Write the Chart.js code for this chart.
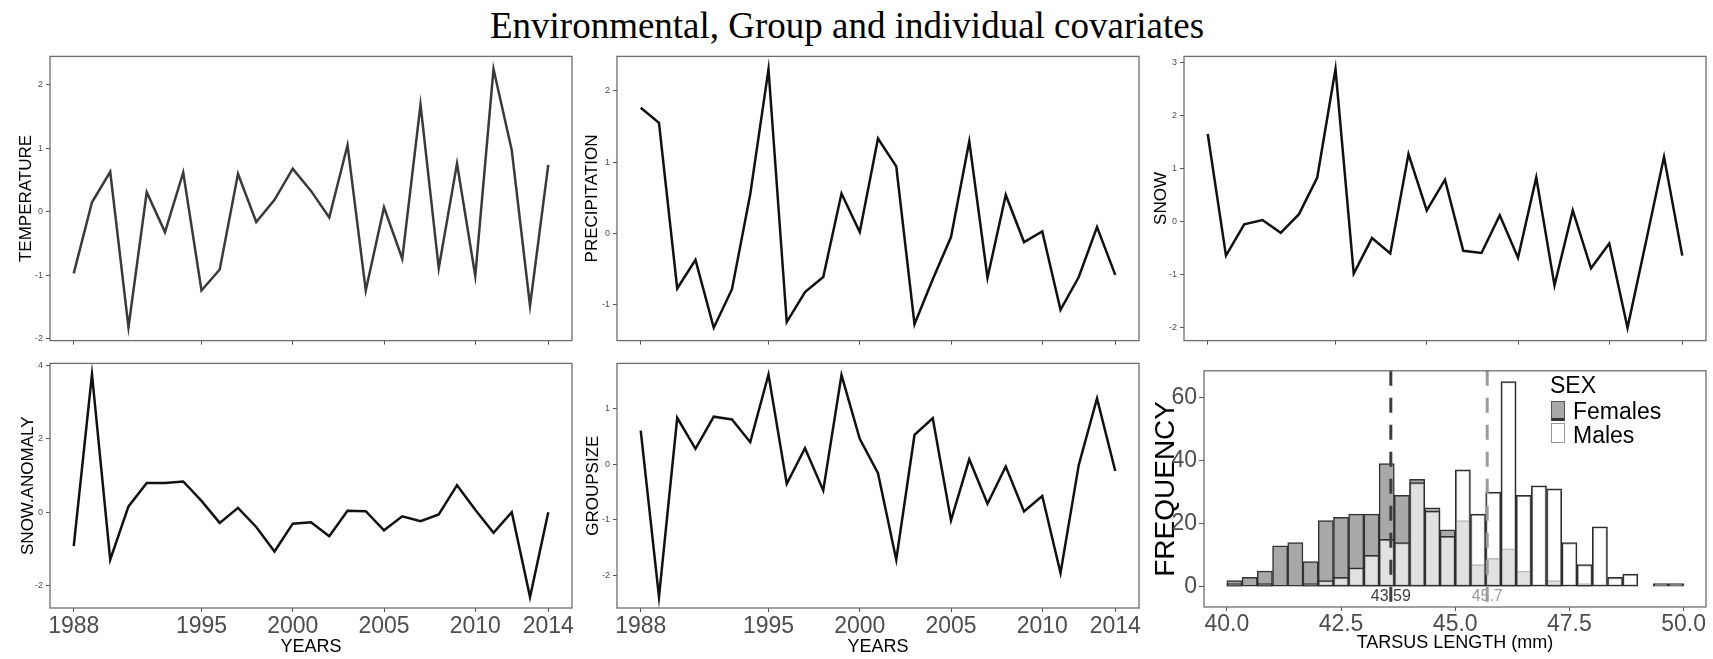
<!DOCTYPE html>
<html>
<head>
<meta charset="utf-8">
<script src="https://cdn.jsdelivr.net/npm/chart.js@4.4.1/dist/chart.umd.min.js"></script>
<style>
  body { margin: 0; background: #fff; width: 1713px; height: 659px; position: relative; overflow: hidden;
         font-family: 'Liberation Sans', Arial, sans-serif; }
  canvas { position: absolute; }
  #title { position: absolute; left: 0; width: 1694px; top: 7px; text-align: center; line-height: 1;
           font-family: 'Liberation Serif', 'Times New Roman', serif; font-size: 37px; color: #000; }
  .lg { position: absolute; line-height: 1; font-size: 23px; color: #000; }
  .key { position: absolute; width: 14px; height: 20px; box-sizing: border-box; }
</style>
</head>
<body>
<div id="title">Environmental, Group and individual covariates</div>

<canvas id="temp"></canvas>
<canvas id="prec"></canvas>
<canvas id="snow"></canvas>
<canvas id="anom"></canvas>
<canvas id="group"></canvas>
<canvas id="hist"></canvas>

<div class="lg" style="left:1550px;top:374px">SEX</div>
<div class="key" style="left:1551px;top:401px;background:#a8a8a8;border:1px solid #555;border-bottom:3px solid #333"></div>
<div class="key" style="left:1551px;top:423px;background:#fff;border:1px solid #999"></div>
<div class="lg" style="left:1573px;top:400px">Females</div>
<div class="lg" style="left:1573px;top:424px">Males</div>

<script>
// yearly covariates, 1988-2014
const years = [1988, 1989, 1990, 1991, 1992, 1993, 1994, 1995, 1996, 1997, 1998, 1999, 2000, 2001,
               2002, 2003, 2004, 2005, 2006, 2007, 2008, 2009, 2010, 2011, 2012, 2013, 2014];
const yearTicks = [1988, 1995, 2000, 2005, 2010, 2014];

const temperature = [-0.97, 0.15, 0.63, -1.82, 0.31, -0.32, 0.62, -1.24, -0.91, 0.60, -0.16, 0.19, 0.68, 0.33,
                     -0.09, 1.05, -1.24, 0.07, -0.74, 1.69, -0.89, 0.76, -1.01, 2.25, 0.97, -1.48, 0.74];
const precipitation = [1.76, 1.55, -0.77, -0.37, -1.32, -0.78, 0.55, 2.30, -1.24, -0.82, -0.61, 0.56, 0.02, 1.33,
                       0.94, -1.27, -0.64, -0.05, 1.29, -0.62, 0.54, -0.12, 0.03, -1.07, -0.61, 0.09, -0.58];
const snow = [1.65, -0.64, -0.05, 0.03, -0.21, 0.14, 0.83, 2.87, -0.98, -0.31, -0.60, 1.27, 0.21, 0.79,
              -0.55, -0.59, 0.12, -0.68, 0.83, -1.20, 0.21, -0.88, -0.41, -2.00, -0.40, 1.22, -0.64];
const snowAnomaly = [-0.92, 3.76, -1.29, 0.16, 0.80, 0.80, 0.84, 0.31, -0.29, 0.12, -0.40, -1.07, -0.31, -0.27,
                     -0.65, 0.04, 0.03, -0.49, -0.11, -0.24, -0.06, 0.74, 0.07, -0.56, 0.00, -2.31, 0.00];
const groupSize = [0.61, -2.39, 0.84, 0.28, 0.86, 0.81, 0.40, 1.62, -0.35, 0.29, -0.47, 1.61, 0.46, -0.16,
                   -1.72, 0.53, 0.83, -1.01, 0.09, -0.71, -0.04, -0.85, -0.57, -1.96, -0.01, 1.19, -0.12];

// tarsus length histogram (bin centres, mm) and counts per sex
const tarsusBins = [40.167, 40.5, 40.833, 41.167, 41.5, 41.833, 42.167, 42.5, 42.833, 43.167,
                    43.5, 43.833, 44.167, 44.5, 44.833, 45.167, 45.5, 45.833, 46.167, 46.5,
                    46.833, 47.167, 47.5, 47.833, 48.167, 48.5, 48.833, 49.167, 49.5, 49.833];
const females = [2, 3, 5, 13, 14, 8, 21, 22, 23, 23, 39, 29, 34, 25, 18, 21, 7, 9, 12, 5,
                 0, 2, 0, 1, 0, 0, 0, 0, 0, 0];
const males = [1, 0, 1, 0, 0, 1, 2, 3, 6, 10, 15, 14, 33, 24, 16, 37, 23, 30, 65, 29,
               32, 31, 14, 7, 19, 3, 4, 0, 1, 1];
const tarsusTicks = [40, 42.5, 45, 47.5, 50];
const meanTarsus = [43.59, 45.7];
const meanLabels = ['43.59', '45.7'];

const NARROW = "'Liberation Sans Narrow', 'Arial Narrow', 'Liberation Sans', sans-serif";
const SANS = "'Liberation Sans', Arial, sans-serif";

const frame = {
  id: 'frame',
  afterDraw(chart) {
    const a = chart.chartArea, ctx = chart.ctx;
    ctx.save();
    ctx.strokeStyle = '#6e6e6e';
    ctx.lineWidth = 1.3;
    ctx.strokeRect(a.left, a.top, a.right - a.left, a.bottom - a.top);
    ctx.restore();
  }
};

function place(canvas, left, top, w, h) {
  canvas.width = w;
  canvas.height = h;
  canvas.style.left = left + 'px';
  canvas.style.top = top + 'px';
}

const tickGrid = { drawOnChartArea: false, drawTicks: true, tickLength: 4, color: '#555', lineWidth: 1 };

function lineChart(id, box, values, o) {
  const canvas = document.getElementById(id);
  const xh = o.showX ? 659 - box.b : 8;
  const left = box.l - o.yw;
  place(canvas, left, box.t - 4, box.r - box.l + o.yw + 4, 4 + box.b - box.t + xh);

  new Chart(canvas, {
    type: 'line',
    data: {
      datasets: [{
        data: years.map((y, i) => ({ x: y, y: values[i] })),
        borderColor: o.color || '#111',
        borderWidth: 2.5,
        pointRadius: 0,
        tension: 0,
        fill: false
      }]
    },
    options: {
      responsive: false,
      animation: false,
      events: [],
      layout: { padding: { top: 4, right: 4, left: 0, bottom: 0 } },
      plugins: { legend: { display: false }, tooltip: { enabled: false } },
      scales: {
        x: {
          type: 'linear', min: 1986.7, max: 2015.3,
          afterBuildTicks: s => { s.ticks = yearTicks.map(v => ({ value: v })); },
          afterFit: s => { s.height = xh; },
          grid: tickGrid,
          border: { display: false },
          ticks: { display: o.showX, autoSkip: false, maxRotation: 0, padding: 1, color: '#4d4d4d',
                   font: { family: NARROW, size: 23 }, callback: v => String(v) },
          title: { display: o.showX, text: 'YEARS', color: '#000', font: { family: SANS, size: 18 },
                   padding: { top: 0, bottom: 1.5 } }
        },
        y: {
          min: o.min, max: o.max,
          afterBuildTicks: s => { s.ticks = o.ticks.map(v => ({ value: v })); },
          afterFit: s => { s.width = o.yw; },
          grid: tickGrid,
          border: { display: false },
          ticks: { padding: 3, color: '#4d4d4d', font: { family: SANS, size: 9 }, callback: v => String(v) },
          title: { display: true, text: o.title, color: '#000', font: { family: SANS, size: 17 },
                   padding: { top: o.titleX - left - 10.2, bottom: 0 } }
        }
      }
    },
    plugins: [frame]
  });
}

const col1 = { l: 50, r: 572 }, col2 = { l: 617, r: 1139 }, col3 = { l: 1184, r: 1706 };
const row1 = { t: 52, b: 341 }, row2 = { t: 359, b: 608 };

lineChart('temp', { ...col1, ...row1 }, temperature,
  { title: 'TEMPERATURE', min: -2.03, max: 2.45, ticks: [-2, -1, 0, 1, 2], yw: 50, titleX: 26, color: '#3a3a3a' });
lineChart('prec', { ...col2, ...row1 }, precipitation,
  { title: 'PRECIPITATION', min: -1.5, max: 2.48, ticks: [-1, 0, 1, 2], yw: 50, titleX: 592 });
lineChart('snow', { ...col3, ...row1 }, snow,
  { title: 'SNOW', min: -2.24, max: 3.11, ticks: [-2, -1, 0, 1, 2, 3], yw: 44, titleX: 1161 });
lineChart('anom', { ...col1, ...row2 }, snowAnomaly,
  { title: 'SNOW.ANOMALY', min: -2.61, max: 4.06, ticks: [-2, 0, 2, 4], yw: 50, titleX: 28, showX: true });
lineChart('group', { ...col2, ...row2 }, groupSize,
  { title: 'GROUPSIZE', min: -2.59, max: 1.82, ticks: [-2, -1, 0, 1], yw: 50, titleX: 593, showX: true });

// histogram of tarsus length by sex
const meanLines = {
  id: 'meanLines',
  afterDatasetsDraw(chart) {
    const ctx = chart.ctx, a = chart.chartArea, xs = chart.scales.x, ys = chart.scales.y;
    const colours = ['#3d3d3d', '#9a9a9a'];
    ctx.save();
    meanTarsus.forEach((m, i) => {
      const px = xs.getPixelForValue(m);
      ctx.fillStyle = colours[i];
      ctx.font = '16px ' + NARROW;
      ctx.textAlign = 'center';
      ctx.textBaseline = 'middle';
      ctx.fillText(meanLabels[i], px, ys.getPixelForValue(-3));
      ctx.strokeStyle = colours[i];
      ctx.lineWidth = 3;
      ctx.setLineDash([15, 12]);
      ctx.beginPath();
      ctx.moveTo(px, a.top);
      ctx.lineTo(px, a.bottom);
      ctx.stroke();
    });
    ctx.restore();
  }
};

(function () {
  const canvas = document.getElementById('hist');
  const box = { l: 1204, r: 1706, t: 359, b: 607 };
  const yw = 64, xh = 659 - box.b, left = box.l - yw;
  place(canvas, left, box.t - 4, box.r - box.l + yw + 4, 4 + box.b - box.t + xh);

  new Chart(canvas, {
    type: 'bar',
    data: {
      datasets: [
        { label: 'Males', order: 1, data: tarsusBins.map((x, i) => ({ x, y: males[i] })),
          backgroundColor: 'rgba(255,255,255,0.66)', borderColor: '#2e2e2e' },
        { label: 'Females', order: 2, data: tarsusBins.map((x, i) => ({ x, y: females[i] })),
          backgroundColor: '#a8a8a8', borderColor: '#333' }
      ]
    },
    options: {
      responsive: false,
      animation: false,
      events: [],
      layout: { padding: { top: 4, right: 4, left: 0, bottom: 0 } },
      plugins: { legend: { display: false }, tooltip: { enabled: false } },
      datasets: { bar: { grouped: false, barPercentage: 1, categoryPercentage: 1, borderWidth: 1.5, borderSkipped: false } },
      scales: {
        x: {
          type: 'linear', min: 39.5, max: 50.49, offset: false,
          afterBuildTicks: s => { s.ticks = tarsusTicks.map(v => ({ value: v })); },
          afterFit: s => { s.height = xh; },
          grid: { ...tickGrid, tickLength: 4, offset: false },
          border: { display: false },
          ticks: { autoSkip: false, maxRotation: 0, padding: 0, color: '#4d4d4d',
                   font: { family: NARROW, size: 23 }, callback: v => v.toFixed(1) },
          title: { display: true, text: 'TARSUS LENGTH (mm)', color: '#000', font: { family: SANS, size: 18 },
                   padding: { top: 0, bottom: 4.9 } }
        },
        y: {
          min: -6.4, max: 68.4,
          afterBuildTicks: s => { s.ticks = [0, 20, 40, 60].map(v => ({ value: v })); },
          afterFit: s => { s.width = yw; },
          grid: { ...tickGrid, tickLength: 5 },
          border: { display: false },
          ticks: { padding: 2, color: '#4d4d4d', font: { family: NARROW, size: 23 } },
          title: { display: true, text: 'FREQUENCY', color: '#000', font: { family: SANS, size: 28 },
                   padding: { top: 1166 - left - 16.8, bottom: 0 } }
        }
      }
    },
    plugins: [meanLines, frame]
  });
})();
</script>
</body>
</html>
